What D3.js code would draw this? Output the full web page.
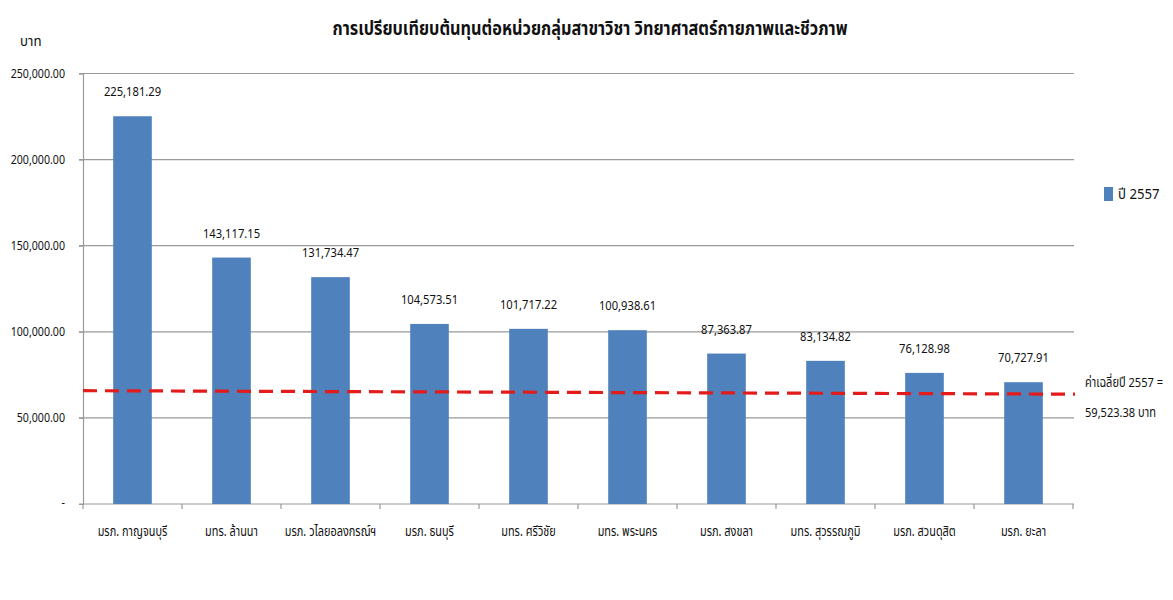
<!DOCTYPE html>
<html>
<head>
<meta charset="utf-8">
<script src="https://cdn.jsdelivr.net/npm/d3@7"></script>
<style>
  body { margin: 0; background: #fff; }
  text { font-family: Tahoma, "Noto Sans Thai", "Noto Sans", "DejaVu Sans", sans-serif; fill: #111; }
</style>
</head>
<body>
<svg id="chart" width="1173" height="600"></svg>
<script>
// data
const universities = ['มรภ. กาญจนบุรี', 'มทร. ล้านนา', 'มรภ. วไลยอลงกรณ์ฯ', 'มรภ. ธนบุรี', 'มทร. ศรีวิชัย',
  'มทร. พระนคร', 'มรภ. สงขลา', 'มทร. สุวรรณภูมิ', 'มรภ. สวนดุสิต', 'มรภ. ยะลา']
const cost2557 = [225181.29, 143117.15, 131734.47, 104573.51, 101717.22, 100938.61, 87363.87, 83134.82, 76128.98, 70727.91]
const yTicks = [0, 50000, 100000, 150000, 200000, 250000]
// red dashed average marker (drawn slightly sloped in the original)
const avgLine = [65800, 63800]
const avgLabel = ['ค่าเฉลี่ยปี 2557 =', '59,523.38  บาท']
const seriesName = 'ปี 2557'

const svg = d3.select('#chart')
const margin = {left: 83, top: 73.5, right: 100, bottom: 96}
const width = 1073 - margin.left
const height = 504 - margin.top

// narrow the glyphs a bit, the original uses a condensed font
function squeeze(sel, px, py, k) {
  sel.attr('transform', (d, i) => `translate(${px(d, i)},${py(d, i)}) scale(${k},1)`)
}

const g = svg.append('g').attr('transform', `translate(${margin.left},${margin.top})`)

const x = d3.scaleBand()
  .domain(universities)
  .range([0, width])

const y = d3.scaleLinear()
  .domain([0, 250000])
  .range([height, 0])

const fmt = d3.format(',.2f')

// gridlines
g.append('g')
  .selectAll('line')
  .data(yTicks.filter(d => d > 0))
  .enter()
  .append('line')
  .attr('x1', -4)
  .attr('x2', width + 1)
  .attr('y1', d => y(d))
  .attr('y2', d => y(d))
  .attr('stroke', '#9a9a9a')
  .attr('stroke-width', 1.2)

// y axis
const yAxis = g.append('g')
  .call(d3.axisLeft(y)
    .tickValues(yTicks)
    .tickSize(4)
    .tickPadding(14)
    .tickFormat(d => d === 0 ? '-' : fmt(d)))
yAxis.select('.domain').attr('stroke', '#9a9a9a').attr('stroke-width', 1.2)
yAxis.selectAll('.tick line').attr('stroke', '#9a9a9a')
yAxis.selectAll('.tick text')
  .attr('font-size', 12.5)
  .attr('fill', '#111')
  .attr('x', null)
  .attr('dy', d => d === 0 ? '0.2em' : '0.32em')
  .call(squeeze, () => -18, () => 0, 0.85)

// x axis with ticks between categories
const xAxis = g.append('g').attr('transform', `translate(0,${height})`)
xAxis.append('line')
  .attr('x1', -4).attr('x2', width + 1)
  .attr('stroke', '#9a9a9a').attr('stroke-width', 1.2)
xAxis.selectAll('.sep')
  .data(d3.range(universities.length + 1))
  .enter()
  .append('line')
  .attr('x1', i => i * x.step())
  .attr('x2', i => i * x.step())
  .attr('y1', 0).attr('y2', 5)
  .attr('stroke', '#9a9a9a').attr('stroke-width', 1.2)
xAxis.selectAll('.cat')
  .data(universities)
  .enter()
  .append('text')
  .attr('text-anchor', 'middle')
  .attr('font-size', 14)
  .text(d => d)
  .call(squeeze, d => x(d) + x.bandwidth() / 2, () => 32, 0.78)

// bars
const barW = x.bandwidth() * 0.39
g.append('g')
  .selectAll('rect')
  .data(universities)
  .enter()
  .append('rect')
  .attr('x', d => x(d) + (x.bandwidth() - barW) / 2)
  .attr('y', (d, i) => y(cost2557[i]))
  .attr('width', barW)
  .attr('height', (d, i) => height - y(cost2557[i]))
  .attr('fill', '#4f81bd')

// value labels
g.append('g')
  .selectAll('text')
  .data(universities)
  .enter()
  .append('text')
  .attr('text-anchor', 'middle')
  .attr('font-size', 13.5)
  .text((d, i) => fmt(cost2557[i]))
  .call(squeeze, d => x(d) + x.bandwidth() / 2, (d, i) => y(cost2557[i]) - 20, 0.83)

// average dashed line
g.append('line')
  .attr('x1', 0)
  .attr('x2', width + 2)
  .attr('y1', y(avgLine[0]))
  .attr('y2', y(avgLine[1]))
  .attr('stroke', '#e31b1b')
  .attr('stroke-width', 3.2)
  .attr('stroke-dasharray', '14,8')

svg.append('g')
  .selectAll('text')
  .data(avgLabel)
  .enter()
  .append('text')
  .attr('font-size', 13.5)
  .text(d => d)
  .call(squeeze, () => 1085, (d, i) => 387 + i * 30, 0.82)

// legend
svg.append('rect')
  .attr('x', 1104).attr('y', 187)
  .attr('width', 9).attr('height', 14)
  .attr('fill', '#4f81bd')
svg.append('text')
  .attr('font-size', 15)
  .text(seriesName)
  .call(squeeze, () => 1118, () => 199, 0.88)

// title and unit
svg.append('text')
  .attr('x', 590).attr('y', 35)
  .attr('text-anchor', 'middle')
  .attr('font-size', 19.5)
  .attr('font-weight', 'bold')
  .attr('textLength', 515)
  .attr('lengthAdjust', 'spacingAndGlyphs')
  .text('การเปรียบเทียบต้นทุนต่อหน่วยกลุ่มสาขาวิชา วิทยาศาสตร์กายภาพและชีวภาพ')

svg.append('text')
  .attr('font-size', 14)
  .text('บาท')
  .call(squeeze, () => 20, () => 46, 0.95)
</script>
</body>
</html>
